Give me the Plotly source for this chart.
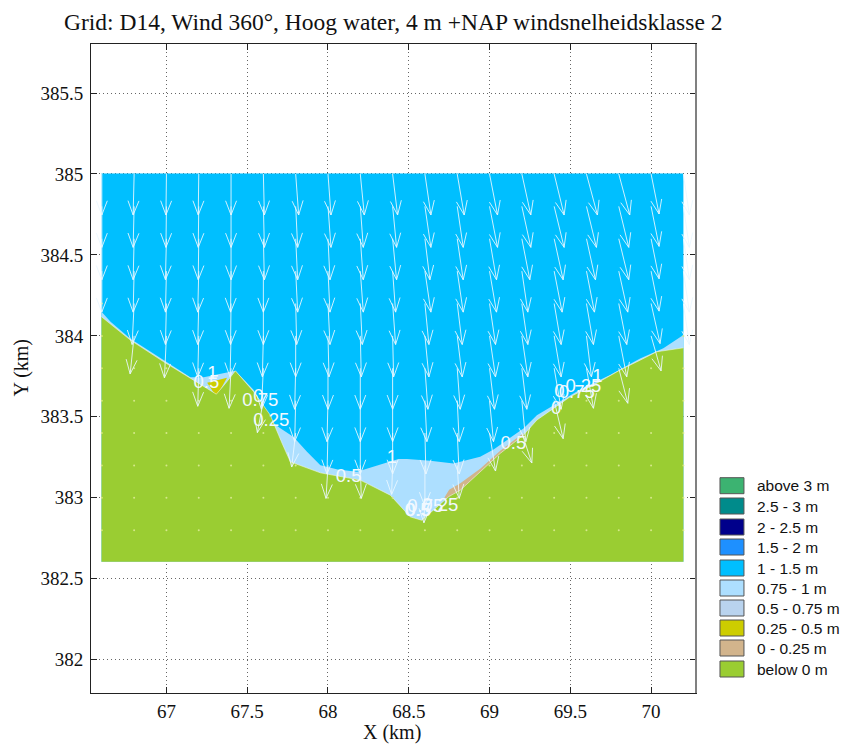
import plotly.graph_objects as go

TITLE = "Grid: D14, Wind 360°, Hoog water, 4 m +NAP windsnelheidsklasse 2"
X_TICKS = [67, 67.5, 68, 68.5, 69, 69.5, 70]
Y_TICKS = [382, 382.5, 383, 383.5, 384, 384.5, 385, 385.5]

# computational domain
domain_x = [66.598, 70.2, 70.2, 66.598, 66.598]
domain_y = [385.003, 385.003, 382.604, 382.604, 385.003]

# boundary of the land ("below 0 m")
land_x = [66.598, 66.777, 66.983, 67.148, 67.241, 67.309, 67.365, 67.427, 67.54, 67.643,
          67.716, 67.767, 67.953, 68.2, 68.386, 68.509, 68.581, 68.664, 68.746, 68.819,
          68.942, 69.066, 69.21, 69.293, 69.396, 69.499, 69.643, 69.808, 69.932, 70.035, 70.2]
land_y = [384.118, 383.974, 383.84, 383.737, 383.682, 383.64, 383.706, 383.784, 383.655, 383.51,
          383.336, 383.222, 383.154, 383.109, 383.016, 382.882, 382.861, 382.934, 383.006, 383.047,
          383.16, 383.274, 383.387, 383.48, 383.552, 383.624, 383.696, 383.789, 383.85, 383.902, 383.926]

# boundary of the 1 m depth contour
deep_x = [66.598, 66.654, 66.777, 66.983, 67.148, 67.231, 67.375, 67.427, 67.54, 67.664, 67.705, 67.787, 67.87,
          67.953, 68.06, 68.18, 68.345, 68.437, 68.489, 68.633, 68.777, 68.942, 69.025, 69.21, 69.293,
          69.396, 69.561, 69.746, 69.932, 70.076, 70.2]
deep_y = [384.149, 384.087, 383.982, 383.848, 383.745, 383.744, 383.772, 383.784, 383.665, 383.459, 383.43, 383.376, 383.285,
          383.201, 383.175, 383.16, 383.212, 383.239, 383.239, 383.228, 383.212, 383.253, 383.298, 383.428, 383.51,
          383.572, 383.669, 383.758, 383.861, 383.923, 384.005]

# shallow patches
yellow_x = [67.252, 67.375, 67.309]
yellow_y = [383.71, 383.741, 383.624]
tan_x = [68.72, 68.75, 68.819, 68.942, 69.066, 69.21, 69.21, 68.8]
tan_y = [383.0, 383.05, 383.09, 383.18, 383.29, 383.40, 383.36, 382.98]

# contour labels
label_text = ["1", "0.5", "0", "0.75", "0.25", "0.5", "1", "0.5", "0", "0", "0.25", "0.75", "1",
              "0.5", "0.5", "0.75", "0.25"]
label_x = [67.285, 67.247, 67.569, 67.581, 67.649, 68.128, 68.396, 69.148, 69.412, 69.433, 69.581, 69.54, 69.668,
           68.555, 68.56, 68.602, 68.695]
label_y = [383.764, 383.708, 383.622, 383.593, 383.469, 383.125, 383.243, 383.331, 383.546, 383.648, 383.682, 383.645, 383.744,
           382.919, 382.915, 382.94, 382.948]

# vector grid
grid_x = [66.6, 66.8, 67.0, 67.2, 67.4, 67.6, 67.8, 68.0, 68.2, 68.4, 68.6, 68.8, 69.0, 69.2, 69.4, 69.6, 69.8, 70.0, 70.2]
grid_y = [385.0, 384.8, 384.6, 384.4, 384.2, 384.0, 383.8, 383.6, 383.4, 383.2, 383.0, 382.8]

# eastward component per row (None: dry)
N = None
vec_u = [
    [0, -1, -0.5, -0.5, 0, 1, 3, 3, 4, 5, 6, 7, 8, 9, 10, 11, 11, 8, 6],
    [0, -1, -0.5, -0.5, 0, 1, 2, 3, 3, 4, 6, 6, 8, 9, 10, 10, 10, 8, 6],
    [0, -1, -1, -0.5, 0, 1, 2, 2, 3, 4, 5, 6, 7, 8, 9, 9, 10, 8, 6],
    [0, -1, -1, -1, -0.5, 0, 2, 2, 3, 3, 6, 6, 7, 6, 8, 8, 9, 8, 6],
    [N, -2, -1, -1, -0.5, 0, 1, 2, 2, 3, 4, 5, 6, 6, 7, 7, 8, 9, 6],
    [N, -4, -2, -1, -1, -1, 0, 1, 1, 1, 4, 5, 6, 6, 7, 5, 8, 10, N],
    [N, N, N, -1, -2, -2, -1, 0, 0, 0, 3, 3, 5, 5, 7, 7, 9, N, N],
    [N, N, N, N, N, -6, -1, -1, 0, 0, 2, 2, 4, 4, 9, N, N, N, N],
    [N, N, N, N, N, N, -4, -1, 0, 0, 1, 2, 6, 10, N, N, N, N, N],
    [N, N, N, N, N, N, N, -2, 1, -1, 0, 2, N, N, N, N, N, N, N],
    [N, N, N, N, N, N, N, N, N, N, -1, N, N, N, N, N, N, N, N],
]
# southward component away from the shore, and at the last wet point of each column
vec_v_open = [41, 41, 41, 41, 41, 41, 41, 41, 41, 41, 41, 41, 41, 41, 41, 41, 41, 40, 41]
vec_v_shore = [41, 38, 42, 38, 40, 32, 34, 33, 33, 29, 25, 33, 38, 30, 38, 40, 35, 35, 41]
ARROW_SCALE = 0.00618  # km per vector unit

legend_labels = ["above 3 m", "2.5 - 3 m", "2 - 2.5 m", "1.5 - 2 m", "1 - 1.5 m", "0.75 - 1 m",
                 "0.5 - 0.75 m", "0.25 - 0.5 m", "0 - 0.25 m", "below 0 m"]
legend_colors = ["#3CB371", "#008B8B", "#00008B", "#1E90FF", "#00BFFF", "#ADDFFF",
                 "#B9D3EE", "#CDCD00", "#D2B48C", "#9ACD32"]
legend_px = [485.7, 506, 527, 547, 568, 588, 608, 628, 648, 669]

C = dict(zip(legend_labels, legend_colors))

X_RANGE = [66.533, 70.278]
Y_RANGE = [381.794, 385.803]
L, R, T, B = 90.5, 149, 44, 54
W, H = 845, 747


def fx(px):
    return (px - L) / (W - L - R)


def fy(py):
    return 1 - (py - T) / (H - T - B)


fig = go.Figure()


def area(xs, ys, color):
    fig.add_trace(go.Scatter(x=xs, y=ys, mode="lines", fill="toself", fillcolor=color,
                             line=dict(width=0), hoverinfo="skip", showlegend=False))


area(domain_x, domain_y, C["1 - 1.5 m"])
area(deep_x + [70.2, 66.598], deep_y + [382.604, 382.604], C["0.75 - 1 m"])
area(tan_x, tan_y, C["0 - 0.25 m"])
area(yellow_x, yellow_y, C["0.25 - 0.5 m"])
area(land_x + [70.2, 66.598], land_y + [382.604, 382.604], C["below 0 m"])

# contour line along the shore
fig.add_trace(go.Scatter(x=land_x, y=land_y, mode="lines", hoverinfo="skip", showlegend=False,
                         line=dict(color="rgba(245,250,235,0.55)", width=1)))

# vectors
ax, ay = [], []
dot_x, dot_y = [], []
for j, gx in enumerate(grid_x):
    last = max(i for i, row in enumerate(vec_u) if row[j] is not None)
    for i, gy in enumerate(grid_y):
        if i > last:
            dot_x.append(gx)
            dot_y.append(gy)
            continue
        v = vec_v_shore[j] if i == last else vec_v_open[j]
        dx = vec_u[i][j] * ARROW_SCALE
        dy = -v * ARROW_SCALE
        tx, ty = gx + dx, gy + dy
        ax += [gx, tx, None]
        ay += [gy, ty, None]
        length = (dx * dx + dy * dy) ** 0.5
        ux, uy = dx / length, dy / length
        back, side = 0.088, 0.034
        for s in (1, -1):
            ax += [tx - ux * back - uy * side * s, tx, None]
            ay += [ty - uy * back + ux * side * s, ty, None]

fig.add_trace(go.Scatter(x=dot_x, y=dot_y, mode="markers", hoverinfo="skip", showlegend=False,
                         marker=dict(size=2, color="#D5E88A")))
fig.add_trace(go.Scatter(x=ax, y=ay, mode="lines", hoverinfo="skip", showlegend=False,
                         connectgaps=False, line=dict(color="rgba(235,247,255,0.88)", width=1)))

# contour labels
fig.add_trace(go.Scatter(x=label_x, y=label_y, text=label_text, mode="text", hoverinfo="skip",
                         showlegend=False, cliponaxis=False,
                         textfont=dict(family="Liberation Sans", size=18.5, color="#F2F9FF")))

shapes = [dict(type="line", xref="paper", yref="paper", x0=1, x1=1, y0=0, y1=1,
               line=dict(color="#808080", width=2))]
annotations = []
for lab, col, py in zip(legend_labels, legend_colors, legend_px):
    shapes.append(dict(type="rect", xref="paper", yref="paper", x0=fx(720), x1=fx(744),
                       y0=fy(py + 8), y1=fy(py - 8), fillcolor=col,
                       line=dict(color="#555555", width=1)))
    annotations.append(dict(text=lab, xref="paper", yref="paper", x=fx(755), y=fy(py),
                            xanchor="left", yanchor="middle", showarrow=False,
                            font=dict(family="Liberation Sans", size=15.5, color="#111111")))
# axis titles
annotations.append(dict(text="X (km)", xref="paper", yref="paper", x=fx(392), y=fy(733),
                        xanchor="center", yanchor="middle", showarrow=False,
                        font=dict(family="Liberation Serif", size=20, color="#111111")))
annotations.append(dict(text="Y (km)", xref="paper", yref="paper", x=fx(20), y=fy(368), textangle=-90,
                        xanchor="center", yanchor="middle", showarrow=False,
                        font=dict(family="Liberation Serif", size=20, color="#111111")))

axis_common = dict(showgrid=True, gridcolor="#666666", griddash="1px,3px", gridwidth=1, automargin=False,
                   zeroline=False, showline=True, linecolor="#222222", linewidth=1, mirror="allticks",
                   ticks="inside", ticklen=6, tickcolor="#222222", tickwidth=1,
                   tickfont=dict(family="Liberation Serif", size=19, color="#111111"))

fig.update_layout(
    width=W, height=H, autosize=False,
    margin=dict(l=L, r=R, t=T, b=B, pad=0),
    paper_bgcolor="white", plot_bgcolor="white", showlegend=False,
    title=dict(text=TITLE, x=(L + (W - L - R) / 2) / W, xanchor="center", y=1 - 22 / H, yanchor="middle",
               automargin=False, font=dict(family="Liberation Serif", size=23.5, color="#111111")),
    xaxis=dict(range=X_RANGE, tickvals=X_TICKS, ticktext=[str(t) for t in X_TICKS], ticklabelstandoff=1,
               **axis_common),
    yaxis=dict(range=Y_RANGE, tickvals=Y_TICKS, ticktext=[str(t) for t in Y_TICKS], ticklabelstandoff=3,
               **axis_common),
    shapes=shapes, annotations=annotations,
)

fig.write_html("out.html", config={"displayModeBar": False},
               post_script="document.body.style.margin='0';document.documentElement.style.overflow='hidden';")
